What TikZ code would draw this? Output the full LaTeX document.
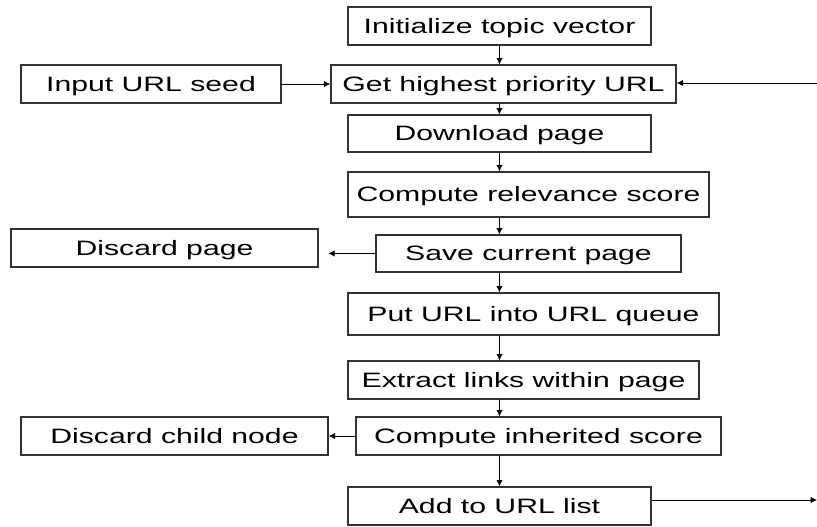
\documentclass[tikz,border=0pt]{standalone}
\usepackage{fontspec}
\usetikzlibrary{arrows.meta}
\newfontfamily\boxfont{Liberation Sans}[FakeStretch=1.45]
\tikzset{
  box/.style={draw=black!80,line width=0.9pt,minimum height=0.95cm,inner sep=0pt,
    text height=10.5pt,text depth=0pt,font=\boxfont\fontsize{14.8}{17}\selectfont},
  arr/.style={line width=0.6pt,-{Latex[length=4.5pt,width=4.5pt]}}
}
\begin{document}
\begin{tikzpicture}[x=0.025cm,y=-0.025cm]
\useasboundingbox (0,0) rectangle (817,527);
\node[box,minimum width=7.575cm] (init) at (499.5,26) {Initialize topic vector};
\node[box,minimum width=6.5cm] (seed) at (151,84) {Input URL seed};
\node[box,minimum width=8.625cm] (get) at (503.5,84) {Get highest priority URL};
\node[box,minimum width=7.575cm,minimum height=0.925cm] (down) at (499.5,133.5) {Download page};
\node[box,minimum width=9.025cm,minimum height=1.125cm] (rel) at (528.5,194.5) {Compute relevance score};
\node[box,minimum width=7.675cm] (dpage) at (164.5,248) {Discard page};
\node[box,minimum width=7.625cm,minimum height=0.925cm] (save) at (528.5,253.5) {Save current page};
\node[box,minimum width=9.275cm,minimum height=1.05cm] (queue) at (533.5,314) {Put URL into URL queue};
\node[box,minimum width=8.775cm] (links) at (523.5,380) {Extract links within page};
\node[box,minimum width=7.675cm] (dchild) at (174.5,436) {Discard child node};
\node[box,minimum width=9.125cm] (inh) at (538.5,436) {Compute inherited score};
\node[box,minimum width=7.575cm] (add) at (499.5,506) {Add to URL list};
\coordinate (back) at (817,83);
\coordinate (out) at (817,500);
\draw[arr] (init.south) -- (init.south |- get.north);
\draw[arr] (seed) -- (get);
\draw[arr] (back) -- (back -| get.east);
\draw[arr] (init.south |- get.south) -- (init.south |- down.north);
\draw[arr] (down.south) -- (down.south |- rel.north);
\draw[arr] (down.south |- rel.south) -- (down.south |- save.north);
\draw[arr] (save.west) -- ++(-47,0);
\draw[arr] (down.south |- save.south) -- (down.south |- queue.north);
\draw[arr] (down.south |- queue.south) -- (down.south |- links.north);
\draw[arr] (down.south |- links.south) -- (down.south |- inh.north);
\draw[arr] (inh) -- (dchild);
\draw[arr] (down.south |- inh.south) -- (add.north);
\draw[arr] (out -| add.east) -- (out);
\end{tikzpicture}
\end{document}
